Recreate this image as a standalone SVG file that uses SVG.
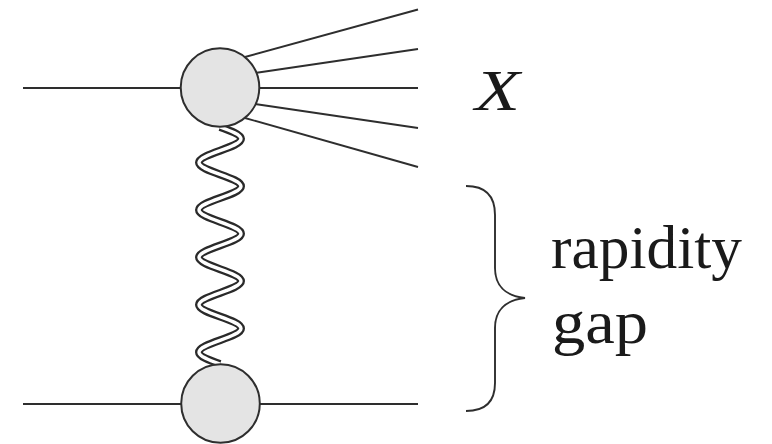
<svg xmlns="http://www.w3.org/2000/svg" width="772" height="444" viewBox="0 0 772 444">
<style>
.ln{stroke:#2e2e2e;stroke-width:1.9;fill:none}
.blob{fill:#e4e4e4;stroke:#2e2e2e;stroke-width:2}
.lbl{fill:#1a1a1a;font-family:"Liberation Serif","Times New Roman","DejaVu Serif",serif}
</style>
<defs>
<path id="wave" d="M220,127 c10.76,3.865 21,7.561 21,11.85 c0,4.289 -10.24,7.985 -21,11.85 c-10.76,3.865 -21,7.561 -21,11.85 c0,4.289 10.24,7.985 21,11.85 c10.76,3.865 21,7.561 21,11.85 c0,4.289 -10.24,7.985 -21,11.85 c-10.76,3.865 -21,7.561 -21,11.85 c0,4.289 10.24,7.985 21,11.85 c10.76,3.865 21,7.561 21,11.85 c0,4.289 -10.24,7.985 -21,11.85 c-10.76,3.865 -21,7.561 -21,11.85 c0,4.289 10.24,7.985 21,11.85 c10.76,3.865 21,7.561 21,11.85 c0,4.289 -10.24,7.985 -21,11.85 c-10.76,3.865 -21,7.561 -21,11.85 c0,4.289 10.24,7.985 21,11.85 c10.76,3.865 21,7.561 21,11.85 c0,4.289 -10.24,7.985 -21,11.85 c-10.76,3.865 -21,7.561 -21,11.85 c0,4.289 10.24,7.985 21,11.85"/>
</defs>
<rect width="772" height="444" fill="#ffffff"/>
<g id="connectors">
<line class="ln" x1="23" y1="88" x2="185" y2="88"/>
<line class="ln" x1="23" y1="404" x2="185" y2="404"/>
<line class="ln" x1="255" y1="404" x2="418" y2="404"/>
<line class="ln" x1="245" y1="57" x2="418" y2="9.5"/>
<line class="ln" x1="255" y1="73" x2="418" y2="49"/>
<line class="ln" x1="255" y1="88" x2="418" y2="88"/>
<line class="ln" x1="255" y1="104" x2="418" y2="128"/>
<line class="ln" x1="245" y1="118" x2="418" y2="167"/>
<g id="pomeron" fill="none">
<use href="#wave" stroke="#2a2a2a" stroke-width="8"/>
<use href="#wave" stroke="#ffffff" stroke-width="3.4"/>
</g>
</g>
<g id="top-blob">
<circle class="blob" cx="220" cy="87.5" r="39.3"/>
</g>
<g id="bottom-blob">
<circle class="blob" cx="220.5" cy="403.5" r="39.3"/>
</g>
<g id="brace">
<path class="ln" d="M466,186 C484,186 495,195 495,215 L495,268 C495,285 505,296 525,298 C505,300 495,311 495,328 L495,383 C495,403 484,411 466,411"/>
</g>
<g id="labels">
<text class="lbl" x="475" y="110" font-size="58" font-style="italic" textLength="45" lengthAdjust="spacingAndGlyphs">X</text>
<text class="lbl" x="551" y="268" font-size="62" textLength="191" lengthAdjust="spacingAndGlyphs">rapidity</text>
<text class="lbl" x="552" y="343" font-size="62" textLength="96" lengthAdjust="spacingAndGlyphs">gap</text>
</g>
</svg>
